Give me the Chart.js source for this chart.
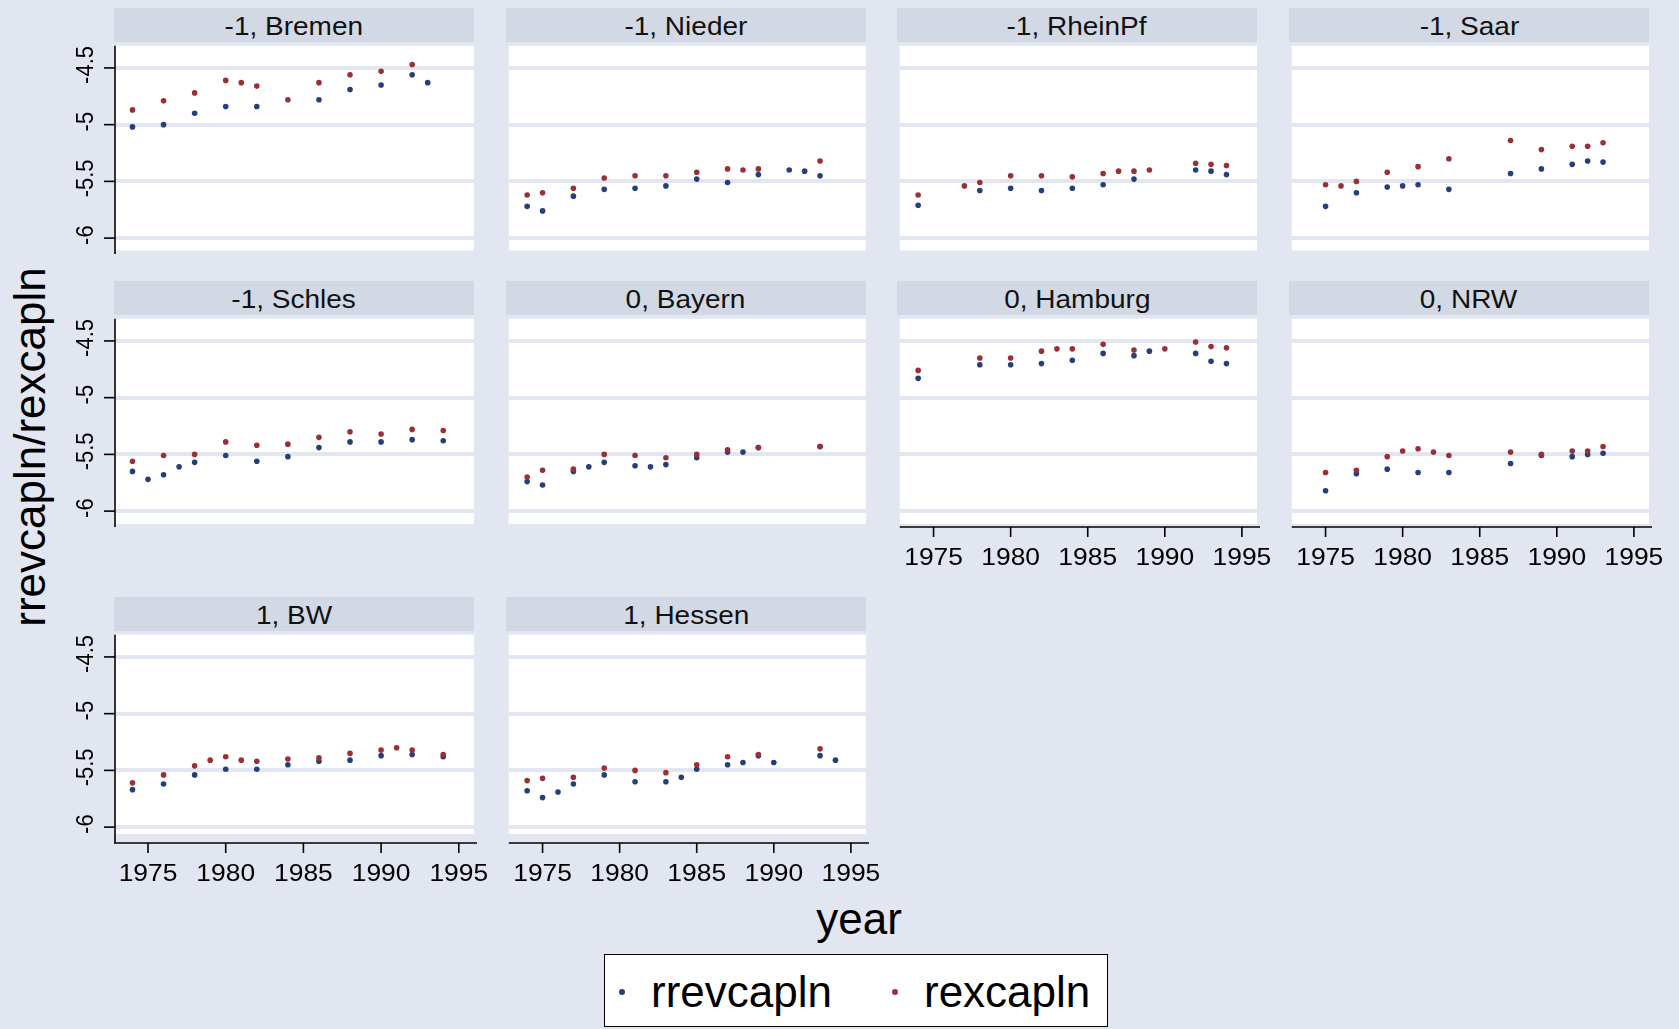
<!DOCTYPE html>
<html>
<head>
<meta charset="utf-8">
<script src="https://cdn.jsdelivr.net/npm/chart.js@4.4.1/dist/chart.umd.min.js"></script>
<style>
  body { margin: 0; width: 1679px; height: 1029px; background: #e1e6f0; position: relative; overflow: hidden;
         font-family: "Liberation Sans", Arial, sans-serif; color: #000; }
  canvas { position: absolute; }
  .strip { position: absolute; height: 34px; background: #d3d9e4; text-align: center; line-height: 36px; font-size: 25px; color: #111; }
  .strip span { display: inline-block; transform: scaleX(1.12); }
  .ytitle { position: absolute; left: 30px; top: 447px; transform: translate(-50%, -50%) rotate(-90deg); font-size: 44px; white-space: nowrap; }
  .xtitle { position: absolute; left: 859px; top: 919px; transform: translate(-50%, -50%); font-size: 44px; }
  .legend { position: absolute; left: 604px; top: 954px; width: 502px; height: 71px; border: 1.5px solid #000; background: #fff; }
  .legend .dot { position: absolute; width: 6px; height: 6px; border-radius: 50%; top: 34px; }
  .legend .lab { position: absolute; top: 12px; font-size: 44px; line-height: 50px; }
</style>
</head>
<body>
<div class="ytitle">rrevcapln/rexcapln</div>
<div class="xtitle">year</div>
<div class="legend">
  <div class="dot" style="left:14px;background:#243f7a"></div><div class="lab" style="left:46px">rrevcapln</div>
  <div class="dot" style="left:287px;background:#9a2f38"></div><div class="lab" style="left:319px">rexcapln</div>
</div>
<script>
// years 1974..1994, one slot per year (null = no observation)
const years = [1974, 1975, 1976, 1977, 1978, 1979, 1980, 1981, 1982, 1983, 1984,
               1985, 1986, 1987, 1988, 1989, 1990, 1991, 1992, 1993, 1994];
const xTicks = [1975, 1980, 1985, 1990, 1995];
const yTicks = [-6, -5.5, -5, -4.5];

const bremenRev = [-5.02, null, -5.00, null, -4.90, null, -4.84, null, -4.84, null, null, null, -4.78, null, -4.69, null, -4.65, null, -4.56, -4.63, null];
const bremenExp = [-4.87, null, -4.79, null, -4.72, null, -4.61, -4.63, -4.66, null, -4.78, null, -4.63, null, -4.56, null, -4.53, null, -4.47, null, null];
const niederRev = [-5.72, -5.76, null, -5.63, null, -5.57, null, -5.56, null, -5.54, null, -5.48, null, -5.51, null, -5.44, null, -5.40, -5.41, -5.45, null];
const niederExp = [-5.62, -5.60, null, -5.56, null, -5.47, null, -5.45, null, -5.45, null, -5.42, null, -5.39, -5.40, -5.39, null, null, null, -5.32, null];
const rheinRev  = [-5.71, null, null, null, -5.58, null, -5.56, null, -5.58, null, -5.56, null, -5.53, null, -5.48, null, null, null, -5.40, -5.41, -5.44];
const rheinExp  = [-5.62, null, null, -5.54, -5.51, null, -5.45, null, -5.45, null, -5.46, null, -5.43, -5.41, -5.41, -5.40, null, null, -5.34, -5.35, -5.36];
const saarRev   = [null, -5.72, null, -5.60, null, -5.55, -5.54, -5.53, null, -5.57, null, null, null, -5.43, null, -5.39, null, -5.35, -5.32, -5.33, null];
const saarExp   = [null, -5.53, -5.54, -5.50, null, -5.42, null, -5.37, null, -5.30, null, null, null, -5.14, null, -5.22, null, -5.19, -5.19, -5.16, null];
const schlesRev = [-5.65, -5.72, -5.68, -5.61, -5.57, null, -5.51, null, -5.56, null, -5.52, null, -5.44, null, -5.39, null, -5.39, null, -5.37, null, -5.38];
const schlesExp = [-5.56, null, -5.51, null, -5.50, null, -5.39, null, -5.42, null, -5.41, null, -5.35, null, -5.30, null, -5.32, null, -5.28, null, -5.29];
const bayernRev = [-5.74, -5.77, null, -5.65, -5.61, -5.57, null, -5.60, -5.61, -5.59, null, -5.53, null, -5.48, -5.48, -5.44, null, null, null, -5.43, null];
const bayernExp = [-5.70, -5.64, null, -5.63, null, -5.50, null, -5.51, null, -5.53, null, -5.50, null, -5.46, null, -5.44, null, null, null, -5.43, null];
const hamburgRev = [-4.83, null, null, null, -4.71, null, -4.71, null, -4.70, null, -4.67, null, -4.61, null, -4.63, -4.59, null, null, -4.61, -4.68, -4.70];
const hamburgExp = [-4.76, null, null, null, -4.65, null, -4.65, null, -4.59, -4.57, -4.57, null, -4.53, null, -4.58, null, -4.57, null, -4.51, -4.55, -4.56];
const nrwRev    = [null, -5.82, null, -5.67, null, -5.63, null, -5.66, null, -5.66, null, null, null, -5.58, null, -5.51, null, -5.52, -5.50, -5.49, null];
const nrwExp    = [null, -5.66, null, -5.64, null, -5.52, -5.47, -5.45, -5.48, -5.51, null, null, null, -5.48, null, -5.50, null, -5.47, -5.47, -5.43, null];
const bwRev     = [-5.67, null, -5.62, null, -5.54, null, -5.49, null, -5.49, null, -5.45, null, -5.42, null, -5.41, null, -5.37, null, -5.36, null, -5.38];
const bwExp     = [-5.61, null, -5.54, null, -5.46, -5.41, -5.38, -5.41, -5.42, null, -5.40, null, -5.39, null, -5.35, null, -5.32, -5.30, -5.32, null, -5.36];
const hessenRev = [-5.68, -5.74, -5.69, -5.62, null, -5.54, null, -5.60, null, -5.60, -5.56, -5.49, null, -5.45, -5.43, -5.37, -5.43, null, null, -5.37, -5.41];
const hessenExp = [-5.59, -5.57, null, -5.56, null, -5.48, null, -5.50, null, -5.52, null, -5.45, null, -5.38, null, -5.36, null, null, null, -5.31, null];

const BG = '#e1e6f0';
const BLUE = '#243f7a';
const RED = '#9a2f38';

// grid of panels: col/row, which ones carry axes
const panels = [
  { title: '-1, Bremen',  rev: bremenRev,  exp: bremenExp,  col: 0, row: 0 },
  { title: '-1, Nieder',  rev: niederRev,  exp: niederExp,  col: 1, row: 0 },
  { title: '-1, RheinPf', rev: rheinRev,   exp: rheinExp,   col: 2, row: 0 },
  { title: '-1, Saar',    rev: saarRev,    exp: saarExp,    col: 3, row: 0 },
  { title: '-1, Schles',  rev: schlesRev,  exp: schlesExp,  col: 0, row: 1 },
  { title: '0, Bayern',   rev: bayernRev,  exp: bayernExp,  col: 1, row: 1 },
  { title: '0, Hamburg',  rev: hamburgRev, exp: hamburgExp, col: 2, row: 1, xAxis: true },
  { title: '0, NRW',      rev: nrwRev,     exp: nrwExp,     col: 3, row: 1, xAxis: true },
  { title: '1, BW',       rev: bwRev,      exp: bwExp,      col: 0, row: 2, xAxis: true },
  { title: '1, Hessen',   rev: hessenRev,  exp: hessenExp,  col: 1, row: 2, xAxis: true }
];

const colLeft = [114, 506, 897, 1289];
const rowTop = [43, 316, 632];
const rowTrim = [3.5, 3, 9];
const plotW = 360, plotH = 211;

const toPoints = vals => years.map((y, i) => ({ x: y, y: vals[i] })).filter(p => p.y !== null);

// white plot region underneath, Stata-style axes drawn on top
const panelFrame = {
  id: 'panelFrame',
  beforeDraw(chart, args, opts) {
    const { ctx, chartArea: a } = chart;
    ctx.save();
    ctx.fillStyle = '#fff';
    ctx.fillRect(a.left, a.top, a.right - a.left, a.bottom - a.top - opts.trim);
    ctx.restore();
  },
  afterDraw(chart, args, opts) {
    const { ctx, chartArea: a, scales } = chart;
    ctx.save();
    ctx.strokeStyle = '#000';
    ctx.fillStyle = '#000';
    ctx.lineWidth = 1.6;
    ctx.textAlign = 'center';
    ctx.textBaseline = 'middle';
    if (opts.yAxis) {
      ctx.beginPath();
      ctx.moveTo(a.left + 1, a.top);
      ctx.lineTo(a.left + 1, a.bottom);
      ctx.stroke();
      ctx.font = '22px "Liberation Sans", Arial, sans-serif';
      yTicks.forEach(v => {
        const py = scales.y.getPixelForValue(v);
        ctx.beginPath();
        ctx.moveTo(a.left - 10, py);
        ctx.lineTo(a.left + 1, py);
        ctx.stroke();
        ctx.save();
        ctx.translate(a.left - 28, py - 3);
        ctx.rotate(-Math.PI / 2);
        ctx.scale(1, 1.1);
        ctx.fillText(String(v), 0, 0);
        ctx.restore();
      });
    }
    if (opts.xAxis) {
      ctx.beginPath();
      ctx.moveTo(a.left, a.bottom);
      ctx.lineTo(a.right + 3, a.bottom);
      ctx.stroke();
      ctx.font = '24px "Liberation Sans", Arial, sans-serif';
      xTicks.forEach(v => {
        const px = scales.x.getPixelForValue(v);
        ctx.beginPath();
        ctx.moveTo(px, a.bottom);
        ctx.lineTo(px, a.bottom + 10);
        ctx.stroke();
        ctx.save();
        ctx.translate(px, a.bottom + 31);
        ctx.scale(1.1, 1);
        ctx.fillText(String(v), 0, 0);
        ctx.restore();
      });
    }
    ctx.restore();
  }
};

panels.forEach(p => {
  const showY = p.col === 0;
  const showX = !!p.xAxis;
  const padL = showY ? 60 : 0;
  const padR = showX ? 40 : 6;
  const padB = showX ? 52 : 4;
  const left = colLeft[p.col];
  const top = rowTop[p.row];

  const strip = document.createElement('div');
  strip.className = 'strip';
  strip.style.left = left + 'px';
  strip.style.top = (top - 35.5) + 'px';
  strip.style.width = plotW + 'px';
  strip.innerHTML = '<span>' + p.title + '</span>';
  document.body.appendChild(strip);

  const canvas = document.createElement('canvas');
  canvas.width = padL + plotW + padR;
  canvas.height = plotH + padB;
  canvas.style.left = (left - padL) + 'px';
  canvas.style.top = top + 'px';
  document.body.appendChild(canvas);

  new Chart(canvas, {
    type: 'scatter',
    data: {
      datasets: [
        { label: 'rrevcapln', data: toPoints(p.rev), backgroundColor: BLUE, order: 1 },
        { label: 'rexcapln', data: toPoints(p.exp), backgroundColor: RED, order: 0 }
      ]
    },
    options: {
      responsive: false,
      animation: false,
      devicePixelRatio: 1,
      layout: { padding: { left: padL, right: padR, top: 0, bottom: padB } },
      elements: { point: { radius: 2.8, borderWidth: 0, hoverRadius: 2.8 } },
      plugins: {
        legend: { display: false },
        tooltip: { enabled: false },
        panelFrame: { yAxis: showY, xAxis: showX, trim: rowTrim[p.row] }
      },
      scales: {
        x: {
          type: 'linear', min: 1972.81, max: 1995.98,
          grid: { display: false }, border: { display: false },
          ticks: { display: false },
          afterBuildTicks: s => { s.ticks = xTicks.map(v => ({ value: v })); },
          afterFit: s => { s.height = 0; }
        },
        y: {
          type: 'linear', min: -6.14, max: -4.305,
          grid: { color: BG, lineWidth: 4, drawTicks: false },
          border: { display: false },
          ticks: { display: false },
          afterBuildTicks: s => { s.ticks = yTicks.map(v => ({ value: v })); },
          afterFit: s => { s.width = 0; }
        }
      }
    },
    plugins: [panelFrame]
  });
});
</script>
</body>
</html>
